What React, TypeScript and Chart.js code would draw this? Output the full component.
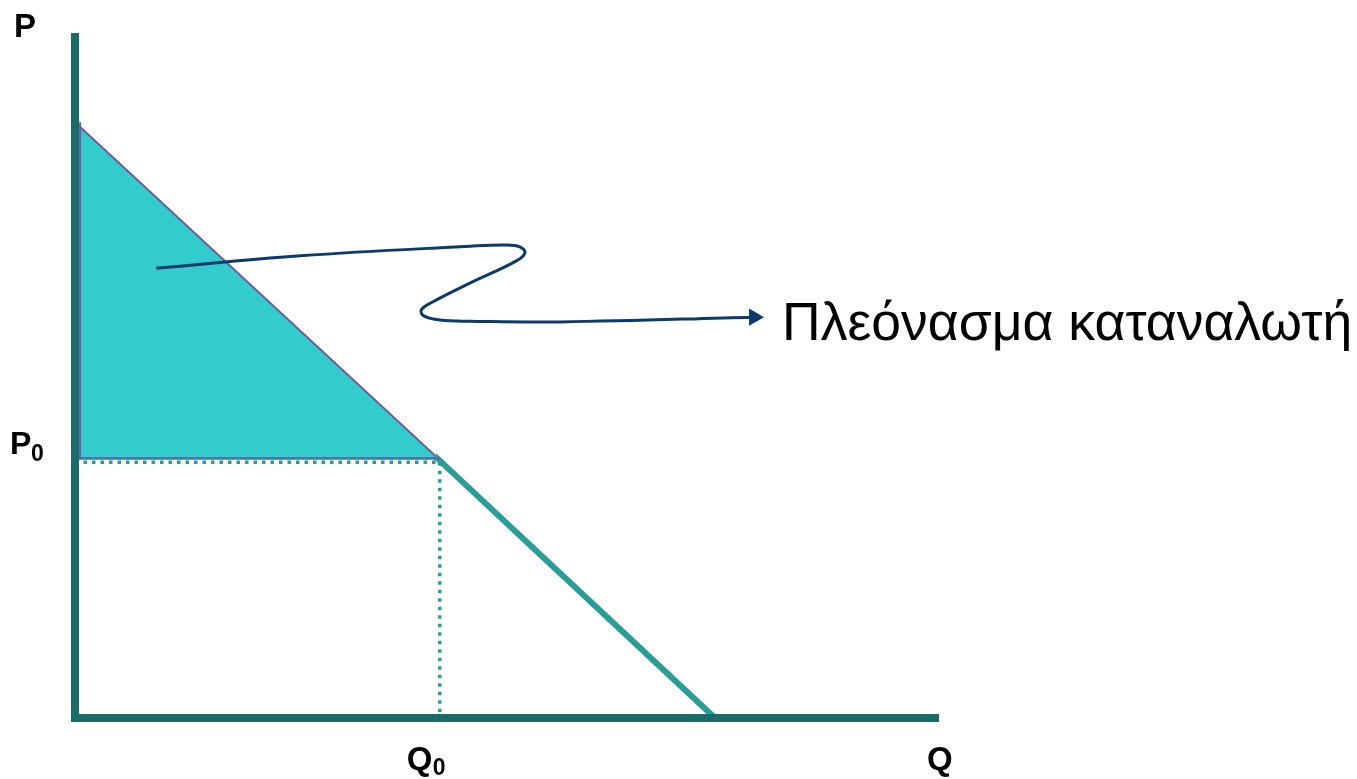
import React, { useEffect, useRef } from "react";
import { Chart, registerables } from "chart.js";

Chart.register(...registerables);

// Economic coordinates: Q (quantity) horizontal, P (price) vertical
const Q_MAX = 13.5;
const P_MAX = 11.5;
const P_INTERCEPT = 10;
const Q_INTERCEPT = 10;
const P0 = 4.33;
const Q0 = 5.7;

// Callout curve (in Q,P units)
const curveQ = [1.27, 3.52, 6.17, 6.72, 6.95, 7.03, 6.89, 6.17, 5.58, 5.41, 5.45, 5.7, 6.17, 7.58, 10.61];
const curveP = [7.55, 7.76, 7.92, 7.94, 7.91, 7.81, 7.67, 7.3, 6.98, 6.85, 6.75, 6.68, 6.66, 6.65, 6.73];

const axisLabels = { p: "P", q: "Q", p0: "P", q0: "Q", sub: "0" };
const calloutText = "Πλεόνασμα καταναλωτή";

const AXIS = "#1B6B6B";
const TEAL = "#2A9D98";
const FILL = "#33CCCC";
const PURPLE = "#6E5CA3";
const NAVY = "#0B3A6E";
const FONT = '"Liberation Sans", Arial, sans-serif';

export default function App() {
  const ref = useRef<HTMLCanvasElement | null>(null);
  useEffect(() => {
    if (!ref.current) return;
    const labelPlugin = {
      id: "labels",
      afterDatasetsDraw(chart: any) {
        const { ctx, scales } = chart;
        const x = scales.x, y = scales.y;
        const px0 = x.getPixelForValue(0);
        const py0 = y.getPixelForValue(0);
        ctx.save();
        ctx.fillStyle = "#000";
        ctx.textBaseline = "alphabetic";
        // P
        ctx.font = `bold 33px ${FONT}`;
        ctx.textAlign = "left";
        ctx.fillText(axisLabels.p, px0 - 61, y.getPixelForValue(P_MAX) + 4);
        // P0
        const pp = y.getPixelForValue(P0);
        ctx.font = `bold 32px ${FONT}`;
        ctx.fillText(axisLabels.p0, px0 - 65, pp - 6);
        ctx.font = `bold 23px ${FONT}`;
        ctx.fillText(axisLabels.sub, px0 - 44, pp + 1);
        // Q0
        const qx = x.getPixelForValue(Q0);
        ctx.font = `bold 33px ${FONT}`;
        ctx.fillText(axisLabels.q0, qx - 33, py0 + 52);
        ctx.font = `bold 23px ${FONT}`;
        ctx.fillText(axisLabels.sub, qx - 7, py0 + 57);
        // Q
        ctx.font = `bold 33px ${FONT}`;
        ctx.fillText(axisLabels.q, x.getPixelForValue(Q_MAX) - 12, py0 + 52);
        // Callout text
        ctx.font = `53.5px ${FONT}`;
        const last = curveQ.length - 1;
        ctx.fillText(
          calloutText,
          x.getPixelForValue(curveQ[last]) + 28,
          y.getPixelForValue(curveP[last]) + 23
        );
        ctx.restore();
      },
    };

    const chart = new Chart(ref.current, {
      type: "scatter",
      data: {
        datasets: [
          // shaded consumer surplus (upper demand segment filled to P0)
          {
            data: [
              { x: 0, y: P_INTERCEPT },
              { x: Q0, y: P0 },
            ],
            showLine: true,
            borderColor: PURPLE,
            borderWidth: 2,
            backgroundColor: FILL,
            fill: { value: P0 },
            pointRadius: 0,
            clip: false,
          } as any,
          // purple outline of triangle (bottom and left edge)
          {
            data: [
              { x: Q0, y: P0 + 0.03 },
              { x: 0.08, y: P0 + 0.03 },
              { x: 0.08, y: P_INTERCEPT },
            ],
            showLine: true,
            borderColor: PURPLE,
            borderWidth: 2,
            pointRadius: 0,
            clip: false,
            order: -1,
          },
          // dotted P0 line
          {
            data: [
              { x: 0, y: P0 - 0.035 },
              { x: Q0, y: P0 - 0.035 },
            ],
            showLine: true,
            borderColor: TEAL,
            borderWidth: 3.5,
            borderDash: [3.5, 5],
            pointRadius: 0,
            clip: false,
          },
          // dotted Q0 line
          {
            data: [
              { x: Q0, y: P0 - 0.035 },
              { x: Q0, y: 0 },
            ],
            showLine: true,
            borderColor: TEAL,
            borderWidth: 3.5,
            borderDash: [3.5, 5],
            pointRadius: 0,
            clip: false,
          },
          // lower demand segment
          {
            data: [
              { x: Q0 - 0.08, y: P0 + 0.07 },
              { x: Q_INTERCEPT, y: 0 },
            ],
            showLine: true,
            borderColor: TEAL,
            borderWidth: 6,
            pointRadius: 0,
            clip: false,
            order: -1,
          },
          // axes
          {
            data: [
              { x: 0, y: P_MAX },
              { x: 0, y: 0 },
              { x: Q_MAX, y: 0 },
            ],
            showLine: true,
            borderColor: AXIS,
            borderWidth: 8,
            borderCapStyle: "butt",
            borderJoinStyle: "miter",
            pointRadius: 0,
            clip: false,
            order: -2,
          } as any,
          // callout curve
          {
            data: curveQ.map((q, i) => ({ x: q, y: curveP[i] })),
            showLine: true,
            borderColor: NAVY,
            borderWidth: 3,
            tension: 0.4,
            pointRadius: curveQ.map((_, i) => (i === curveQ.length - 1 ? 10 : 0)),
            pointStyle: "triangle",
            rotation: 90,
            pointBackgroundColor: NAVY,
            pointBorderColor: NAVY,
            pointBorderWidth: 0,
            clip: false,
            order: -3,
          } as any,
        ],
      },
      options: {
        responsive: false,
        animation: false,
        layout: { padding: { left: 75, right: 418, top: 33, bottom: 61 } },
        plugins: { legend: { display: false }, tooltip: { enabled: false } },
        scales: {
          x: { type: "linear", min: 0, max: Q_MAX, display: false },
          y: { type: "linear", min: 0, max: P_MAX, display: false },
        },
      },
      plugins: [labelPlugin],
    });
    return () => chart.destroy();
  }, []);
  return (
    <div style={{ position: "absolute", left: 0, top: 0, width: 1357, height: 779, background: "#fff" }}>
      <canvas ref={ref} width={1357} height={779} />
    </div>
  );
}
